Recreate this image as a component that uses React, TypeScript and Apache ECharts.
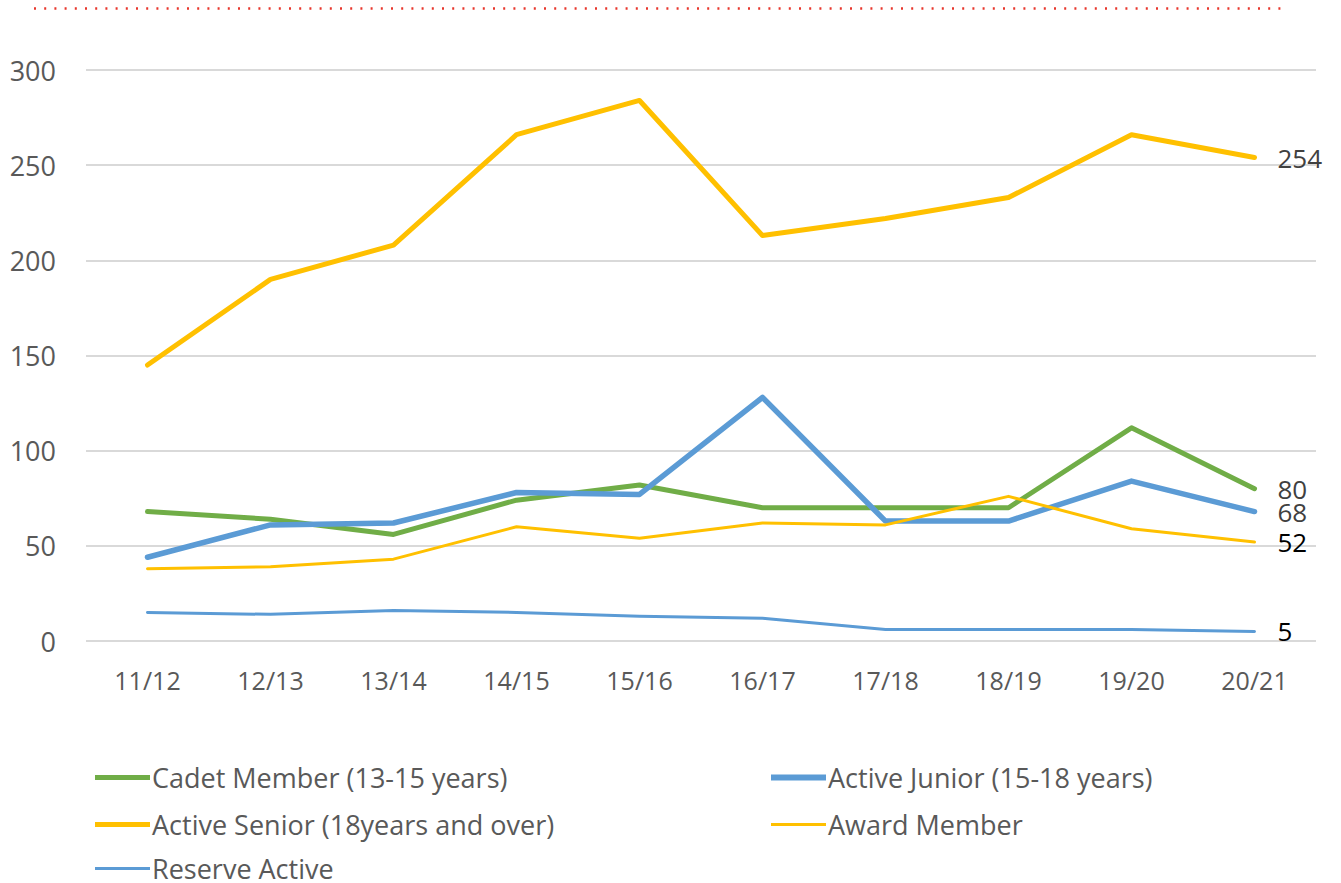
import React, { useEffect, useRef } from "react";
import * as echarts from "echarts";

const categories = ["11/12", "12/13", "13/14", "14/15", "15/16", "16/17", "17/18", "18/19", "19/20", "20/21"];
const cadet = [68, 64, 56, 74, 82, 70, 70, 70, 112, 80];
const activeJunior = [44, 61, 62, 78, 77, 128, 63, 63, 84, 68];
const activeSenior = [145, 190, 208, 266, 284, 213, 222, 233, 266, 254];
const award = [38, 39, 43, 60, 54, 62, 61, 76, 59, 52];
const reserve = [15, 14, 16, 15, 13, 12, 6, 6, 6, 5];
const yTicks = { min: 0, max: 300, interval: 50 };

const FONT = "Open Sans";

const seriesDefs = [
  { name: "Cadet Member (13-15 years)", data: cadet, color: "#70AD47", width: 5, label: "#404040", lx: 95, ly: 776 },
  { name: "Active Junior (15-18 years)", data: activeJunior, color: "#5B9BD5", width: 5.5, label: "#404040", lx: 771, ly: 776 },
  { name: "Active Senior (18years and over)", data: activeSenior, color: "#FFC000", width: 5, label: "#404040", lx: 95, ly: 823 },
  { name: "Award Member", data: award, color: "#FFC000", width: 3, label: "#000000", lx: 771, ly: 823 },
  { name: "Reserve Active", data: reserve, color: "#5B9BD5", width: 3, label: "#000000", lx: 95, ly: 867 },
];

export default function App() {
  const ref = useRef<HTMLDivElement>(null);
  useEffect(() => {
    if (!ref.current) return;
    const chart = echarts.init(ref.current, undefined, { renderer: "svg" });
    chart.setOption({
      animation: false,
      backgroundColor: "#ffffff",
      grid: { left: 86, right: 25, top: 70, bottom: 242, containLabel: false },
      xAxis: {
        type: "category",
        data: categories,
        boundaryGap: true,
        axisLine: { show: false },
        axisTick: { show: false },
        axisLabel: { color: "#595959", fontSize: 25, fontFamily: FONT, margin: 26 },
      },
      yAxis: {
        type: "value",
        min: yTicks.min,
        max: yTicks.max,
        interval: yTicks.interval,
        axisLine: { show: false },
        axisTick: { show: false },
        axisLabel: { color: "#595959", fontSize: 27, fontFamily: FONT, margin: 30 },
        splitLine: { lineStyle: { color: "#d9d9d9", width: 2 } },
      },
      legend: seriesDefs.map((s) => ({
        orient: "horizontal",
        left: s.lx,
        top: s.ly - 12,
        padding: 0,
        icon: "rect",
        itemWidth: 55,
        itemHeight: Math.round(s.width),
        itemStyle: { color: s.color, borderWidth: 0 },
        textStyle: {
          color: "#595959",
          fontSize: 27,
          fontFamily: FONT,
          lineHeight: 24,
          padding: [0, 0, 0, -3],
        },
        data: [s.name],
      })),
      graphic: [
        {
          type: "line",
          shape: { x1: 34, y1: 8.5, x2: 1286, y2: 8.5 },
          style: { stroke: "#e8362c", lineWidth: 2.5, lineDash: [2, 8.2] },
        },
      ],
      series: seriesDefs.map((s) => ({
        name: s.name,
        type: "line",
        data: s.data,
        symbol: "none",
        showSymbol: false,
        lineStyle: { color: s.color, width: s.width, cap: "round", join: "round" },
        itemStyle: { color: s.color },
        endLabel: {
          show: true,
          formatter: "{c}",
          distance: 23,
          color: s.label,
          fontSize: 26,
          fontFamily: FONT,
          lineHeight: 22,
        },
      })),
    });
    return () => chart.dispose();
  }, []);
  return (
    <div
      ref={ref}
      style={{ position: "absolute", left: 0, top: 0, width: 1341, height: 883 }}
    />
  );
}
